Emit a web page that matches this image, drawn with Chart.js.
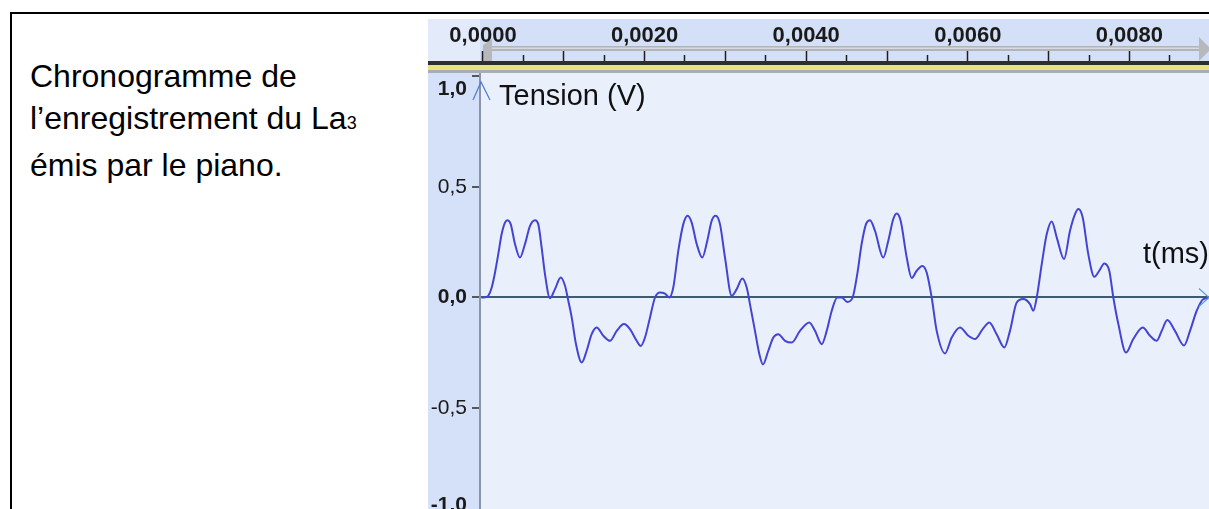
<!DOCTYPE html>
<html>
<head>
<meta charset="utf-8">
<script src="https://cdn.jsdelivr.net/npm/chart.js@4"></script>
<style>
  html, body { margin:0; padding:0; }
  body { width:1209px; height:509px; overflow:hidden; background:#fff; position:relative; }
  #frame { position:absolute; left:10px; top:12px; width:1400px; height:700px; border-top:2px solid #000; border-left:2px solid #000; }
  #txt { position:absolute; left:30px; top:55px; font-family:'Liberation Sans', Arial, sans-serif; font-size:32px; line-height:42px; color:#000; white-space:nowrap; }
  #txt .sub { font-size:18px; }
  #wrap { position:absolute; left:428px; top:19px; width:781px; height:521px; }
</style>
</head>
<body>
<div id="frame"></div>
<div id="txt">Chronogramme de<br>l’enregistrement du La<span class="sub">3</span><br>émis par le piano.</div>
<div id="wrap"><canvas id="c" width="781" height="521" style="width:781px;height:521px"></canvas></div>
<script>
// ---- data (time in ms, tension in V) ----
const timeMs = [
  -0.02, 0.046, 0.066, 0.108, 0.149, 0.189, 0.231, 0.272, 0.301, 0.343, 0.396, 0.458, 0.520, 0.582, 0.644,
  0.684, 0.726, 0.767, 0.829, 0.891, 0.962, 1.015, 1.056, 1.098, 1.151, 1.222, 1.283, 1.345, 1.407, 1.489,
  1.572, 1.655, 1.745, 1.819, 1.902, 1.952, 2.005, 2.067, 2.129, 2.191, 2.252, 2.306, 2.355, 2.417, 2.479,
  2.533, 2.583, 2.645, 2.714, 2.776, 2.830, 2.880, 2.933, 2.995, 3.078, 3.140, 3.209, 3.264, 3.304, 3.366,
  3.420, 3.465, 3.531, 3.593, 3.655, 3.738, 3.821, 3.923, 4.038, 4.109, 4.192, 4.254, 4.316, 4.385, 4.439,
  4.509, 4.575, 4.632, 4.686, 4.740, 4.790, 4.851, 4.954, 5.016, 5.078, 5.120, 5.169, 5.244, 5.306, 5.368,
  5.437, 5.491, 5.553, 5.615, 5.718, 5.801, 5.903, 6.006, 6.089, 6.184, 6.266, 6.357, 6.452, 6.522, 6.605,
  6.687, 6.770, 6.811, 6.853, 6.915, 6.977, 7.039, 7.101, 7.191, 7.265, 7.327, 7.368, 7.422, 7.491, 7.566,
  7.627, 7.689, 7.751, 7.801, 7.863, 7.958, 8.048, 8.165, 8.255, 8.338, 8.400, 8.469, 8.564, 8.676, 8.750,
  8.833, 8.915, 8.977
];
const tension = [
  0.000, 0.003, 0.008, 0.045, 0.113, 0.196, 0.287, 0.339, 0.350, 0.332, 0.242, 0.181, 0.242, 0.324, 0.350,
  0.332, 0.226, 0.106, -0.003, 0.038, 0.090, 0.053, -0.015, -0.090, -0.211, -0.294, -0.241, -0.166, -0.136, -0.173,
  -0.196, -0.151, -0.120, -0.143, -0.196, -0.219, -0.181, -0.090, 0.000, 0.023, 0.018, 0.000, 0.045, 0.211, 0.332,
  0.370, 0.339, 0.242, 0.181, 0.257, 0.347, 0.370, 0.332, 0.181, 0.008, 0.038, 0.086, 0.045, -0.030, -0.151,
  -0.256, -0.303, -0.241, -0.181, -0.166, -0.196, -0.204, -0.151, -0.113, -0.151, -0.211, -0.151, -0.060, 0.000, 0.000,
  -0.020, 0.000, 0.106, 0.242, 0.332, 0.350, 0.302, 0.181, 0.257, 0.355, 0.380, 0.347, 0.181, 0.088, 0.121,
  0.143, 0.113, 0.000, -0.151, -0.253, -0.181, -0.136, -0.173, -0.188, -0.143, -0.113, -0.166, -0.226, -0.151, -0.023,
  -0.007, -0.030, -0.060, 0.000, 0.151, 0.287, 0.344, 0.271, 0.174, 0.302, 0.377, 0.400, 0.362, 0.196, 0.094,
  0.121, 0.154, 0.121, 0.000, -0.120, -0.249, -0.188, -0.136, -0.173, -0.196, -0.151, -0.102, -0.151, -0.217, -0.151,
  -0.060, -0.007, -0.003
];
// ruler (time axis) ticks, in ms; labels shown in seconds
const rulerTicks = [0, 0.5, 1, 1.5, 2, 2.5, 3, 3.5, 4, 4.5, 5, 5.5, 6, 6.5, 7, 7.5, 8, 8.5];
const rulerMajor = [0, 1, 2, 3, 4, 5, 6, 7, 8];
const rulerLabelTimes = [0, 2, 4, 6, 8];
const rulerLabels = ['0,0000', '0,0020', '0,0040', '0,0060', '0,0080'];
// tension axis
const yTicks = [-1, -0.5, 0, 0.5, 1];
const yLabels = ['-1,0', '-0,5', '0,0', '0,5', '1,0'];
const yBoldTicks = [-1, 0, 1];

const FONT = "'Liberation Sans', Arial, sans-serif";

const decor = {
  id: 'decor',
  beforeDraw(chart) {
    const {ctx, chartArea: ca, width, height} = chart;
    ctx.save();
    // ruler background
    ctx.fillStyle = '#e3ebfa'; ctx.fillRect(0, 0, ca.left, ca.top);
    ctx.fillStyle = '#d4e0f8'; ctx.fillRect(ca.left, 0, width - ca.left, ca.top);
    // y-axis strip
    ctx.fillStyle = '#d5e1f8'; ctx.fillRect(0, ca.top, ca.left, height - ca.top);
    // plot area
    ctx.fillStyle = '#e9f0fc'; ctx.fillRect(ca.left, ca.top, width - ca.left, height - ca.top);
    // ruler bar
    ctx.fillStyle = '#b2b4b8'; ctx.fillRect(ca.left + 8, 27, width - ca.left - 17, 5);
    ctx.fillStyle = '#d8dadf'; ctx.fillRect(ca.left + 8, 28.5, width - ca.left - 17, 1.5);
    // right arrowhead of bar
    ctx.fillStyle = '#b6b8bc';
    ctx.beginPath(); ctx.moveTo(width - 10, 18); ctx.lineTo(width + 2, 30); ctx.lineTo(width - 10, 42); ctx.closePath(); ctx.fill();
    // left marker
    const x0 = chart.scales.x.getPixelForValue(0);
    ctx.fillStyle = '#b6b8bc';
    ctx.beginPath(); ctx.moveTo(x0, 26); ctx.lineTo(x0 + 9, 20); ctx.lineTo(x0 + 9, 42); ctx.lineTo(x0, 42); ctx.closePath(); ctx.fill();
    ctx.restore();
  },
  afterDraw(chart) {
    const {ctx, chartArea: ca, width} = chart;
    const ys = chart.scales.y;
    ctx.save();
    // band under the ruler
    ctx.fillStyle = '#2e2e30'; ctx.fillRect(0, 42, width, 4);
    ctx.fillStyle = '#e9e07e'; ctx.fillRect(0, 46, width, 5);
    ctx.fillStyle = '#a9adb5'; ctx.fillRect(0, 51, width, 3);
    // arrow at the top of the tension axis
    ctx.strokeStyle = '#4b7bd2'; ctx.lineWidth = 1.2;
    ctx.beginPath();
    ctx.moveTo(ca.left - 7, 81); ctx.lineTo(ca.left + 1, 63); ctx.lineTo(ca.left + 10, 81);
    ctx.stroke();
    // arrow at the end of the time axis
    const zy = ys.getPixelForValue(0);
    ctx.strokeStyle = '#5b9bd5'; ctx.lineWidth = 1.2;
    ctx.beginPath();
    ctx.moveTo(width - 10, zy - 9); ctx.lineTo(width, zy); ctx.lineTo(width - 10, zy + 9);
    ctx.stroke();
    // axis titles
    ctx.fillStyle = '#111';
    ctx.font = '29px ' + FONT;
    ctx.textBaseline = 'alphabetic';
    ctx.textAlign = 'left';
    ctx.fillText('Tension (V)', ca.left + 19, 86);
    ctx.fillText('t(ms)', 715, 244);
    ctx.restore();
  }
};

new Chart(document.getElementById('c'), {
  type: 'line',
  data: {
    datasets: [{
      data: timeMs.map((t, i) => ({x: t, y: tension[i]})),
      borderColor: '#4343d4',
      borderWidth: 2,
      pointRadius: 0,
      cubicInterpolationMode: 'monotone',
      fill: false
    }]
  },
  options: {
    responsive: false,
    animation: false,
    devicePixelRatio: 1,
    layout: { padding: { left: 0, right: 0, top: 0, bottom: 21.5 } },
    plugins: { legend: { display: false }, tooltip: { enabled: false } },
    scales: {
      x: {
        type: 'linear',
        position: 'top',
        min: -0.037,
        max: 8.985,
        afterBuildTicks: s => { s.ticks = rulerTicks.map(v => ({value: v})); },
        afterFit: s => { s.height = 43; s.paddingLeft = 0; s.paddingRight = 0; },
        border: { display: false },
        grid: {
          drawOnChartArea: false,
          drawTicks: true,
          tickLength: 11,
          tickColor: '#1e1e1e',
          tickWidth: 1.5,
          tickBorderDash: ctx => (ctx.tick && rulerMajor.indexOf(ctx.tick.value) >= 0) ? [] : [0, 4, 7, 30]
        },
        ticks: {
          autoSkip: false,
          maxRotation: 0,
          padding: 2,
          color: '#1a1a1a',
          font: { family: FONT, size: 22, weight: 'bold' },
          callback: v => { const i = rulerLabelTimes.indexOf(v); return i >= 0 ? rulerLabels[i] : ''; }
        }
      },
      y: {
        type: 'linear',
        min: -1,
        max: 1.0656,
        afterBuildTicks: s => { s.ticks = yTicks.map(v => ({value: v})); },
        afterFit: s => { s.width = 52; s.paddingTop = 0; s.paddingBottom = 0; },
        border: { display: true, color: '#8a95a9', width: 2 },
        grid: {
          drawOnChartArea: true,
          color: ctx => (ctx.tick && ctx.tick.value === 0) ? '#3e5b74' : 'rgba(0,0,0,0)',
          lineWidth: 2,
          tickLength: 8,
          tickColor: '#2a2a2a',
          tickWidth: 1.5
        },
        ticks: {
          padding: 5,
          color: '#1a1a1a',
          font: ctx => ({
            family: FONT, size: 21, lineHeight: 26 / 21,
            weight: (ctx.tick && yBoldTicks.indexOf(ctx.tick.value) >= 0) ? 'bold' : 'normal'
          }),
          callback: v => {
            const i = yTicks.indexOf(v);
            if (i < 0) return '';
            if (v === 1) return ['', yLabels[i]];
            if (v === -1) return [yLabels[i], ''];
            return yLabels[i];
          }
        }
      }
    }
  },
  plugins: [decor]
});
</script>
</body>
</html>
